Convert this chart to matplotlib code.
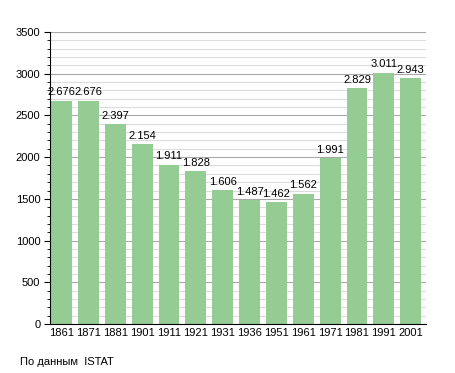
import matplotlib
matplotlib.use("Agg")
import matplotlib.pyplot as plt
from matplotlib.ticker import MultipleLocator

years = ["1861", "1871", "1881", "1901", "1911", "1921", "1931", "1936",
         "1951", "1961", "1971", "1981", "1991", "2001"]
population = [2676, 2676, 2397, 2154, 1911, 1828, 1606, 1487, 1462, 1562,
              1991, 2829, 3011, 2943]
labels = ["2.676", "2.676", "2.397", "2.154", "1.911", "1.828", "1.606",
          "1.487", "1.462", "1.562", "1.991", "2.829", "3.011", "2.943"]

plt.rcParams['font.family'] = ['Liberation Sans', 'DejaVu Sans']

fig = plt.figure(figsize=(4.55, 3.73), dpi=100)
ax = fig.add_axes([50/455, 49/373, 376/455, 292/373])

x = list(range(len(years)))
ax.bar([i + 0.04 for i in x], population, width=0.78, align='edge',
       color='#94cc94', zorder=3)
for i, (v, t) in enumerate(zip(population, labels)):
    ax.text(i + 0.43, v + 40, t, ha='center', va='bottom', fontsize=8, zorder=4)

ax.set_xlim(0, len(years))
ax.set_ylim(0, 3500)
ax.set_xticks([i + 0.43 for i in x])
ax.set_xticklabels(years, fontsize=8)
ax.tick_params(axis='x', length=0, pad=3)
ax.yaxis.set_major_locator(MultipleLocator(500))
ax.yaxis.set_minor_locator(MultipleLocator(100))
ax.tick_params(axis='y', which='major', length=4, labelsize=8, pad=3)
ax.tick_params(axis='y', which='minor', length=2)
ax.grid(axis='y', which='major', color='#a8a8a8', linewidth=0.8, zorder=1)
ax.grid(axis='y', which='minor', color='#dcdcdc', linewidth=0.8, zorder=1)
for s in ['top', 'right']:
    ax.spines[s].set_visible(False)
ax.spines['left'].set_zorder(5)
ax.spines['bottom'].set_zorder(5)

fig.text(20/455, 1 - 362/373, "По данным  ISTAT", fontsize=8, va='center', ha='left')

fig.savefig("out.png", dpi=100)
